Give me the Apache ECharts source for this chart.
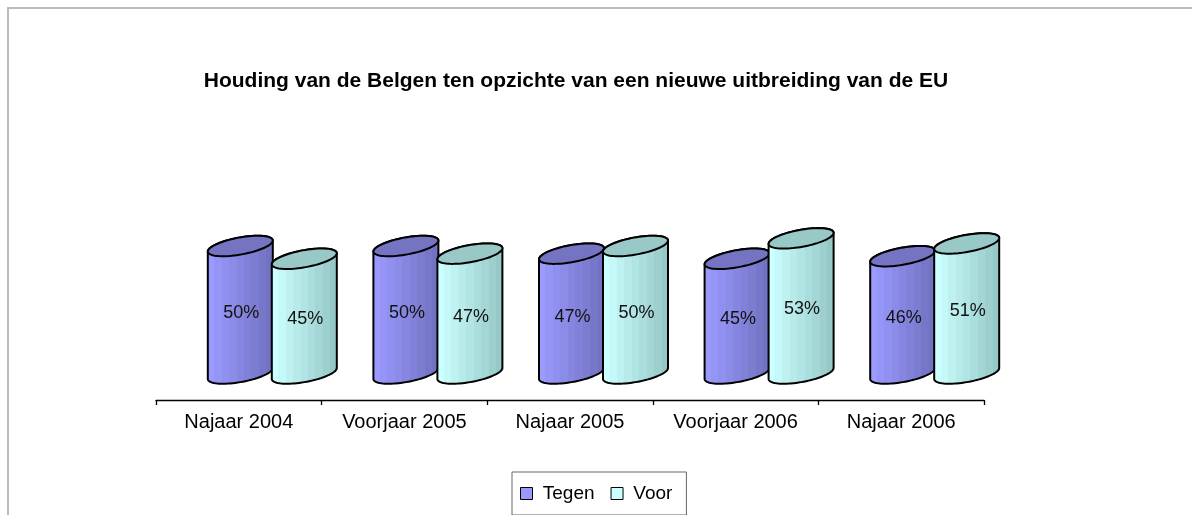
<!DOCTYPE html>
<html>
<head>
<meta charset="utf-8">
<title>Houding van de Belgen</title>
<script src="https://cdn.jsdelivr.net/npm/echarts@6/dist/echarts.min.js"></script>
<style>
  html, body {margin: 0; padding: 0; background: #fff;}
  #chart {width: 1192px; height: 515px;}
</style>
</head>
<body>
<div id="chart"></div>
<script>
let categories = ['Najaar 2004', 'Voorjaar 2005', 'Najaar 2005', 'Voorjaar 2006', 'Najaar 2006'];
let tegen = [50, 50, 47, 45, 46];
let voor = [45, 47, 50, 53, 51];
let seriesNames = ['Tegen', 'Voor'];

let font = '"Liberation Sans", Arial, sans-serif';

// 3d look: cylinders sit a bit behind the axis line
let DEPTH_X = 33.5;
let DEPTH_Y = -26.5;
let RX = 33, RY = 8.5, TILT = 0.18;

function hex2rgb(h) {
  return [parseInt(h.substr(1, 2), 16), parseInt(h.substr(3, 2), 16), parseInt(h.substr(5, 2), 16)];
}

// vertical bands like the old office cylinders
function stripes(c1, c2, n) {
  let a = hex2rgb(c1), b = hex2rgb(c2);
  let stops = [];
  for (let i = 0; i < n; i++) {
    let t = i / (n - 1);
    let c = 'rgb(' + a.map(function(v, k){ return Math.round(v + (b[k] - v) * t); }).join(',') + ')';
    stops.push({offset: i / n, color: c});
    stops.push({offset: (i + 1) / n, color: c});
  }
  return {type: 'linear', x: 0, y: 0, x2: 1, y2: 0, colorStops: stops};
}

function ellipsePoint(cx, cy, t) {
  let c = Math.cos(TILT), s = Math.sin(TILT);
  return [
    cx + RX * c * Math.cos(t) + RY * s * Math.sin(t),
    cy - RX * s * Math.cos(t) + RY * c * Math.sin(t)
  ];
}

function makeRender(offset, bodyFrom, bodyTo, topColor) {
  return function(params, api) {
    let base = api.coord([api.value(0), 0]);
    let top = api.coord([api.value(0), api.value(1)]);
    let cx = base[0] + DEPTH_X + offset;
    let yb = base[1] + DEPTH_Y;
    let yt = top[1] + DEPTH_Y;
    let t0 = Math.atan2(RY * Math.sin(TILT), RX * Math.cos(TILT));
    let steps = 40;
    let body = [];
    for (let i = 0; i <= steps; i++) body.push(ellipsePoint(cx, yb, t0 + Math.PI * i / steps));
    for (let i = 0; i <= steps; i++) body.push(ellipsePoint(cx, yt, t0 + Math.PI + Math.PI * i / steps));
    let cap = [];
    for (let i = 0; i < steps * 2; i++) cap.push(ellipsePoint(cx, yt, Math.PI * i / steps));
    return {
      type: 'group',
      children: [
        {type: 'polygon', shape: {points: body}, style: {fill: stripes(bodyFrom, bodyTo, 9), stroke: '#000', lineWidth: 2}},
        {type: 'polygon', shape: {points: cap}, style: {fill: topColor, stroke: '#000', lineWidth: 2}},
        {type: 'text', x: cx + 1, y: (yt + yb) / 2 + 3, style: {
          text: api.value(1) + '%', font: '18px ' + font, fill: '#111',
          textAlign: 'center', textVerticalAlign: 'middle'
        }}
      ]
    };
  };
}

let chart = echarts.init(document.getElementById('chart'), null, {renderer: 'canvas'});

let option = {
  animation: false,
  backgroundColor: '#fff',
  graphic: [
    {type: 'rect', shape: {x: 8, y: 8, width: 1300, height: 700}, style: {fill: 'none', stroke: '#bbbbbb', lineWidth: 2}, silent: true},
    {type: 'text', x: 576, y: 71, style: {
      text: 'Houding van de Belgen ten opzichte van een nieuwe uitbreiding van de EU',
      font: 'bold 21px ' + font, fill: '#000', textAlign: 'center', textVerticalAlign: 'top'
    }}
  ],
  legend: {
    left: 512, top: 472,
    padding: [12, 14, 12, 8],
    borderColor: '#666', borderWidth: 1,
    itemWidth: 12, itemHeight: 12, itemGap: 16,
    icon: 'rect',
    formatter: function(name){ return ' ' + name; },
    textStyle: {fontFamily: font, fontSize: 19, color: '#000'},
    data: [
      {name: 'Tegen', itemStyle: {color: '#9999ff', borderColor: '#000', borderWidth: 1}},
      {name: 'Voor', itemStyle: {color: '#ccffff', borderColor: '#000', borderWidth: 1}}
    ]
  },
  grid: {left: 156, right: 208, top: 145, bottom: 115},
  xAxis: {
    type: 'category',
    data: categories,
    boundaryGap: true,
    axisLine: {lineStyle: {color: '#000', width: 1.3}},
    axisTick: {show: true, length: 5, lineStyle: {color: '#000', width: 1.3}},
    axisLabel: {fontFamily: font, fontSize: 20, color: '#000', margin: 12}
  },
  yAxis: {type: 'value', min: 0, max: 100, show: false},
  series: [
    {
      name: seriesNames[0], type: 'custom',
      itemStyle: {color: '#9999ff'},
      renderItem: makeRender(-32, '#9a9aff', '#7272c2', '#7474c2'),
      data: tegen.map(function(v, i){ return [i, v]; })
    },
    {
      name: seriesNames[1], type: 'custom',
      itemStyle: {color: '#ccffff'},
      renderItem: makeRender(32, '#ccffff', '#96c8c8', '#99c9c6'),
      data: voor.map(function(v, i){ return [i, v]; })
    }
  ]
};

chart.setOption(option);
</script>
</body>
</html>
